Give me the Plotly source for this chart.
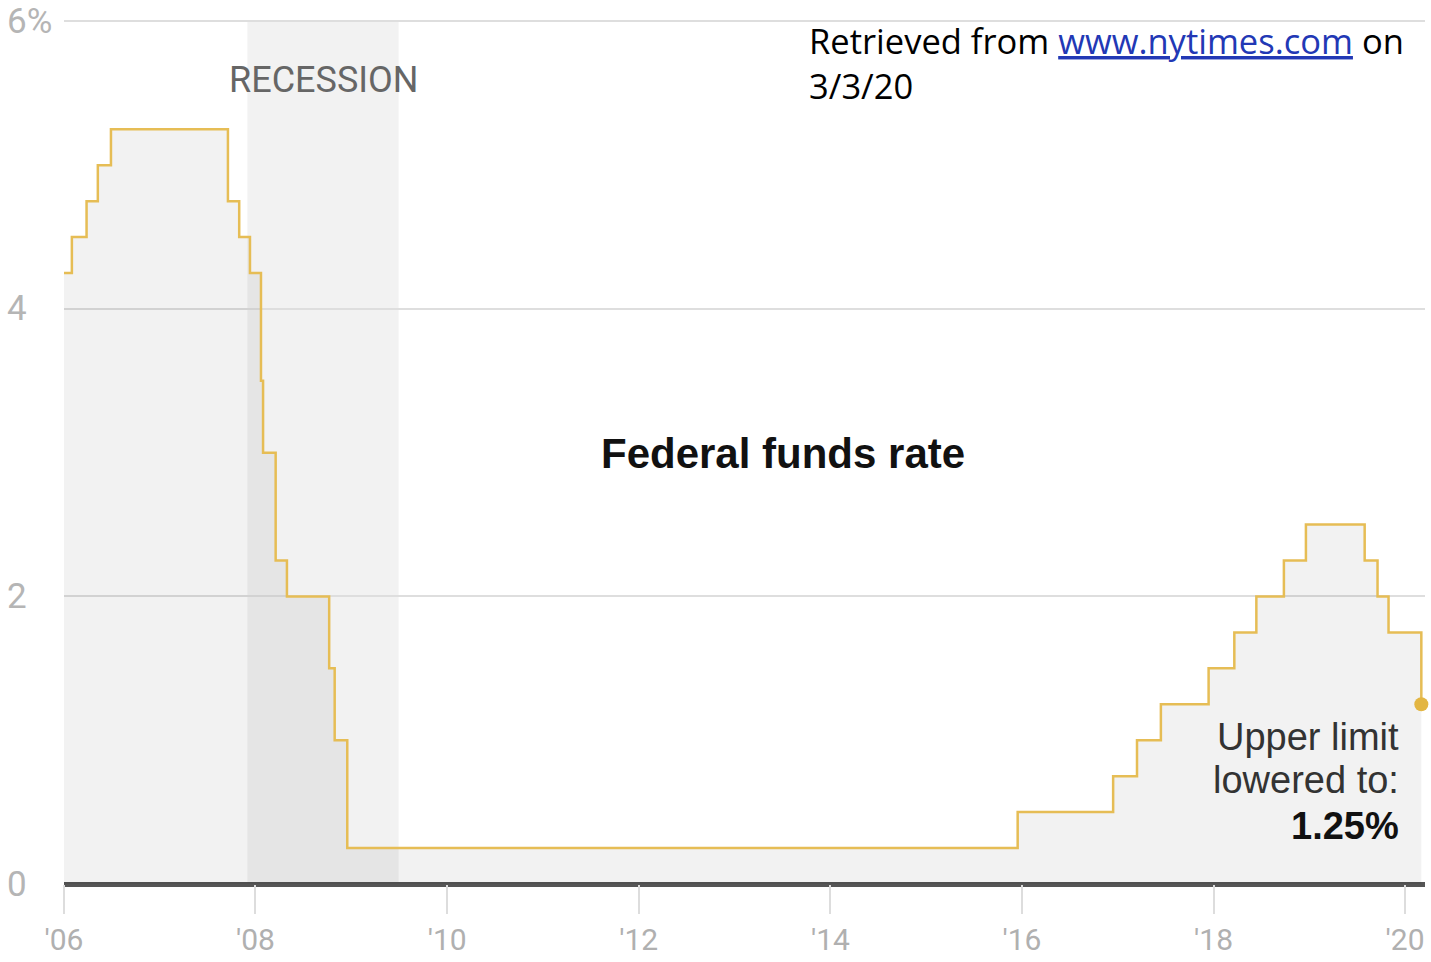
import plotly.graph_objects as go

# ---- data ----
change_dates = ["2006-01-01", "2006-01-31", "2006-03-28", "2006-05-10", "2006-06-29",
                "2007-09-18", "2007-10-31", "2007-12-11", "2008-01-22", "2008-01-30",
                "2008-03-18", "2008-04-30", "2008-10-08", "2008-10-29", "2008-12-16",
                "2015-12-16", "2016-12-14", "2017-03-15", "2017-06-14", "2017-12-13",
                "2018-03-21", "2018-06-13", "2018-09-26", "2018-12-19", "2019-07-31",
                "2019-09-18", "2019-10-30", "2020-03-03"]
upper_limit = [4.25, 4.5, 4.75, 5.0, 5.25,
               4.75, 4.5, 4.25, 3.5, 3.0,
               2.25, 2.0, 1.5, 1.0, 0.25,
               0.5, 0.75, 1.0, 1.25, 1.5,
               1.75, 2.0, 2.25, 2.5, 2.25,
               2.0, 1.75, 1.25]
recession_start = "2007-12-01"
recession_end = "2009-06-30"
x_tick_vals = ["2006-01-01", "2008-01-01", "2010-01-01", "2012-01-01",
               "2014-01-01", "2016-01-01", "2018-01-01", "2020-01-01"]
x_tick_text = ["'06", "'08", "'10", "'12", "'14", "'16", "'18", "'20"]
y_tick_vals = [0, 2, 4, 6]
y_tick_text = ["0", "2", "4", "6%"]
note_lines = ["Upper limit", "lowered to:", "<b>1.25%</b>"]

LINE = "#e6bd55"
FONT = "Roboto, 'Liberation Sans', sans-serif"
ARIAL = "'Liberation Sans', Arial, sans-serif"

fig = go.Figure()
fig.add_trace(go.Scatter(
    x=change_dates, y=upper_limit, mode="lines", line=dict(shape="hv", color=LINE, width=2.5),
    fill="tozeroy", fillcolor="rgba(0,0,0,0.05)", hoverinfo="skip", showlegend=False))
fig.add_trace(go.Scatter(
    x=[change_dates[-1]], y=[upper_limit[-1]], mode="markers",
    marker=dict(size=14, color="#e3b643"), cliponaxis=False, showlegend=False))

fig.add_shape(type="rect", xref="x", yref="paper", x0=recession_start, x1=recession_end,
              y0=0, y1=1, fillcolor="rgba(0,0,0,0.05)", line=dict(width=0), layer="below")

for v, t in zip(y_tick_vals, y_tick_text):
    fig.add_annotation(xref="paper", yref="y", x=-0.0434, y=v, text=t, showarrow=False,
                       xanchor="left", yanchor="middle",
                       font=dict(family=FONT, size=35, color="#b5b5b5"))

fig.add_annotation(xref="paper", yref="paper", x=0.191, y=0.9306, text="RECESSION",
                   showarrow=False, xanchor="center", yanchor="middle",
                   font=dict(family=FONT, size=36, color="#666666"))
fig.add_annotation(xref="paper", yref="paper", x=0.528, y=0.4988, text="<b>Federal funds rate</b>",
                   showarrow=False, xanchor="center", yanchor="middle",
                   font=dict(family=ARIAL, size=42, color="#111111"))
for i, (line_txt, ypos) in enumerate(zip(note_lines, [0.1701, 0.1204, 0.0671])):
    fig.add_annotation(xref="paper", yref="paper", x=0.982, y=ypos, text=line_txt,
                       showarrow=False, xanchor="right", yanchor="middle", align="right",
                       font=dict(family=ARIAL, size=38, color="#333333" if i < 2 else "#111111"))
fig.add_annotation(xref="paper", yref="paper", x=0.546, y=1.006,
                   text=("Retrieved from <a href='https://www.nytimes.com' style='color:#2238b5'>"
                         "<u>www.nytimes.com</u></a> on<br>3/3/20"),
                   showarrow=False, xanchor="left", yanchor="top", align="left",
                   font=dict(family="'Open Sans', Lato, sans-serif", size=34.5, color="#000000"))

fig.update_layout(
    width=1431, height=962,
    margin=dict(l=64, r=6, t=20, b=78),
    plot_bgcolor="white", paper_bgcolor="white",
    xaxis=dict(type="date", range=["2006-01-01", "2020-03-17"], tickvals=x_tick_vals,
               ticktext=x_tick_text, showgrid=False, zeroline=False, showline=False,
               ticks="outside", ticklen=29, tickcolor="#dddddd", tickwidth=2,
               automargin=False,
               tickfont=dict(family=FONT, size=30, color="#b0b0b0")),
    yaxis=dict(range=[0, 6.01], tickvals=y_tick_vals, showticklabels=False, automargin=False,
               showgrid=True, gridcolor="#dedede", gridwidth=2,
               zeroline=True, zerolinecolor="#555555", zerolinewidth=5, showline=False),
)

fig.write_html("out.html")
